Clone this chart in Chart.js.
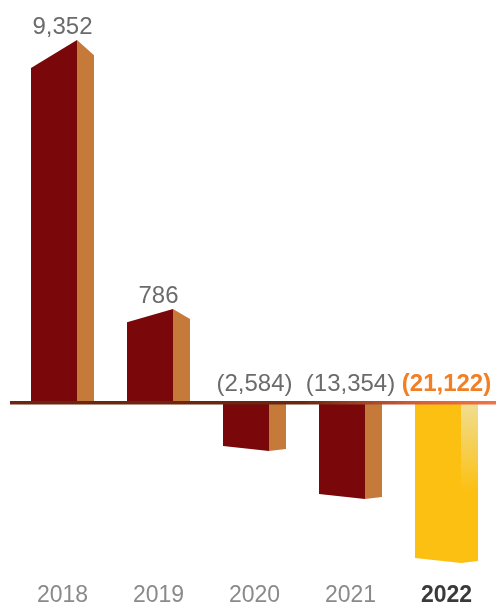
<!DOCTYPE html>
<html>
<head>
<meta charset="utf-8">
<script src="https://cdn.jsdelivr.net/npm/chart.js@4"></script>
<style>
  html, body { margin: 0; padding: 0; background: #fff; }
  #wrap { width: 496px; height: 605px; position: relative; }
</style>
</head>
<body>
<div id="wrap"><canvas id="resultChart"></canvas></div>
<script>
// Years on the x axis
const years = ['2018', '2019', '2020', '2021', '2022'];
// Values printed above each bar
const values = [9352, 786, -2584, -13354, -21122];
// Bar lengths as drawn in the picture (the chart is not to scale)
const barLengths = [363, 94, -48, -96, -160];

const fmt = v => v < 0 ? '(' + Math.abs(v).toLocaleString('en-US') + ')' : v.toLocaleString('en-US');
const SIDE = 17; // width of the side face
const LIGHT = "24px 'Liberation Sans', Arial, sans-serif";
const BOLD = "bold 24px 'Liberation Sans', Arial, sans-serif";
const YEAR = "23px 'Liberation Sans', Arial, sans-serif";
const YEAR_BOLD = "bold 23px 'Liberation Sans', Arial, sans-serif";

const boxPlugin = {
    id: 'box',
    afterDatasetsDraw(chart) {
        const ctx = chart.ctx;
        const meta = chart.getDatasetMeta(0);
        const last = meta.data.length - 1;

        meta.data.forEach((bar, i) => {
            const left = bar.x - bar.width / 2;
            const right = bar.x + bar.width / 2;
            const base = bar.base;
            const h = Math.abs(base - bar.y);
            const hot = i === last; // highlighted year
            ctx.save();
            if (barLengths[i] >= 0) {
                const dropFront = 8 + h * 0.055;
                const dropSide = 8 + h * 0.02;
                // front
                ctx.fillStyle = '#7a080b';
                ctx.beginPath();
                ctx.moveTo(left, base);
                ctx.lineTo(left, bar.y + dropFront);
                ctx.lineTo(right, bar.y);
                ctx.lineTo(right, base);
                ctx.closePath();
                ctx.fill();
                // side
                ctx.fillStyle = '#c67a3a';
                ctx.beginPath();
                ctx.moveTo(right, base);
                ctx.lineTo(right, bar.y);
                ctx.lineTo(right + SIDE, bar.y + dropSide);
                ctx.lineTo(right + SIDE, base);
                ctx.closePath();
                ctx.fill();
            } else {
                ctx.fillStyle = hot ? '#fcc012' : '#7a080b';
                ctx.beginPath();
                ctx.moveTo(left, base);
                ctx.lineTo(left, bar.y - 5);
                ctx.lineTo(right, bar.y);
                ctx.lineTo(right, base);
                ctx.closePath();
                ctx.fill();
                if (hot) {
                    const g = ctx.createLinearGradient(0, base, 0, bar.y);
                    g.addColorStop(0, '#f0de92');
                    g.addColorStop(0.55, '#fcc012');
                    g.addColorStop(1, '#fcc012');
                    ctx.fillStyle = g;
                } else {
                    ctx.fillStyle = '#c67a3a';
                }
                ctx.beginPath();
                ctx.moveTo(right, base);
                ctx.lineTo(right, bar.y);
                ctx.lineTo(right + SIDE, bar.y - 2);
                ctx.lineTo(right + SIDE, base);
                ctx.closePath();
                ctx.fill();
            }
            ctx.restore();

            // value label
            const cx = bar.x + SIDE / 2;
            ctx.save();
            ctx.textAlign = 'center';
            ctx.textBaseline = 'alphabetic';
            if (barLengths[i] >= 0) {
                ctx.font = LIGHT;
                ctx.fillStyle = '#6b6b6b';
                ctx.fillText(fmt(values[i]), cx, bar.y - 6);
            } else {
                ctx.font = hot ? BOLD : LIGHT;
                ctx.fillStyle = hot ? '#f07f25' : '#6b6b6b';
                ctx.fillText(fmt(values[i]), cx, base - 12);
            }
            // year label
            ctx.font = hot ? YEAR_BOLD : YEAR;
            ctx.fillStyle = hot ? '#3a3a3a' : '#8a8a8a';
            ctx.fillText(years[i], cx, 602);
            ctx.restore();
        });

        // zero line
        const zero = chart.scales.y.getPixelForValue(0);
        const g = ctx.createLinearGradient(10, 0, chart.width, 0);
        g.addColorStop(0, '#6b2610');
        g.addColorStop(0.6, '#6b2610');
        g.addColorStop(0.85, '#d8603a');
        g.addColorStop(1, '#f27443');
        ctx.save();
        ctx.fillStyle = g;
        ctx.fillRect(10, zero - 2, chart.width - 10, 3.5);
        ctx.restore();
    }
};

new Chart(document.getElementById('resultChart'), {
    type: 'bar',
    data: {
        labels: years,
        datasets: [{
            data: barLengths,
            backgroundColor: 'rgba(0,0,0,0)', // faces drawn by the plugin
            barThickness: 46
        }]
    },
    options: {
        responsive: true,
        maintainAspectRatio: false,
        animation: false,
        layout: { padding: { left: 6, right: 10, top: 0, bottom: 0 } },
        plugins: {
            legend: { display: false },
            tooltip: { enabled: false }
        },
        scales: {
            x: { display: false },
            y: { display: false, min: -202, max: 403 }
        }
    },
    plugins: [boxPlugin]
});
</script>
</body>
</html>
